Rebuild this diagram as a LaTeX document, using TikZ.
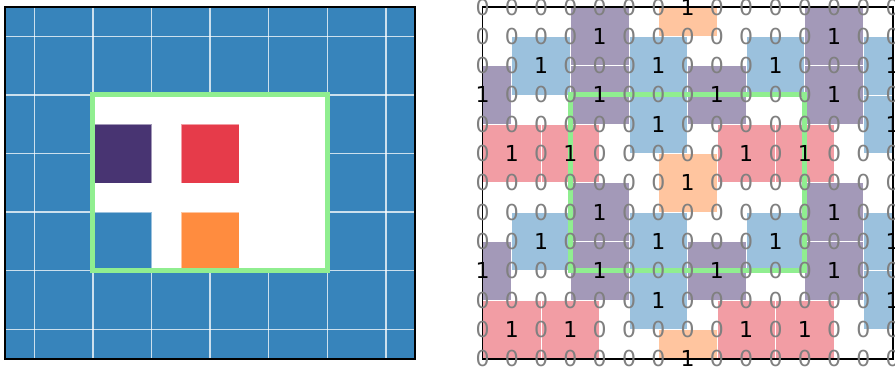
\documentclass[tikz,border=0pt]{standalone}
\usepackage{fontspec}
\newfontfamily\dvfont{DejaVu Sans}
\definecolor{cblue}{HTML}{3784BB}
\definecolor{cpurple}{HTML}{483472}
\definecolor{cred}{HTML}{E63B4A}
\definecolor{corange}{HTML}{FF8C3F}
\definecolor{cgreen}{HTML}{90EE90}
\definecolor{cgray}{HTML}{808080}
\tikzset{
  gridline/.style={draw=white, draw opacity=0.75, line width=1.3bp},
  lsq/.style={draw=white, draw opacity=0.5, line width=0.6bp},
  rsq/.style={draw=white, line width=0.8bp, fill opacity=0.5},
  greenbox/.style={draw=cgreen, line width=5bp},
  framebox/.style={draw=black, line width=1.8bp},
  digit/.style={font=\dvfont\fontsize{22bp}{22bp}\selectfont, inner sep=0pt, anchor=center},
}
\begin{document}
\begin{tikzpicture}[x=1bp,y=-1bp]
\useasboundingbox (0,0) rectangle (895,368);
% ---------- left panel ----------
\begin{scope}[shift={(5bp,-7bp)}, x=29.3bp, y=-29.3bp]
  \fill[cblue] (0,0) rectangle (14,12);
  \foreach \i in {1,3,...,13} \draw[gridline] (\i,0) -- (\i,12);
  \foreach \j in {1,3,...,11} \draw[gridline] (0,\j) -- (14,\j);
  \fill[white] (3,3) rectangle (11,9);
  \draw[lsq, fill=cpurple] (3,4) rectangle (5,6);
  \draw[lsq, fill=cred] (6,4) rectangle (8,6);
  \draw[lsq, fill=cblue] (3,7) rectangle (5,9);
  \draw[lsq, fill=corange] (6,7) rectangle (8,9);
  \draw[greenbox] (3,3) rectangle (11,9);
  \draw[framebox] (0,0) rectangle (14,12);
\end{scope}
% ---------- right panel ----------
\begin{scope}[shift={(482.5bp,-7bp)}, x=29.3bp, y=-29.3bp]
  \begin{scope}
    \clip (0,0) rectangle (14,12);
    \foreach \base/\cols/\cc in {0/{7}/corange,1/{4,12}/cpurple,2/{2,6,10,14}/cblue,3/{0,4,8,12}/cpurple,4/{6,14}/cblue,5/{1,3,9,11}/cred}{
      \foreach \off in {0,6,12}{
        \pgfmathtruncatemacro\rr{\base+\off}
        \ifnum\rr<13
          \foreach \c in \cols {
            \draw[rsq, fill=\cc] (\c-1,\rr-1) rectangle (\c+1,\rr+1);
            \expandafter\gdef\csname one\c x\rr\endcsname{1}
          }
        \fi
      }
    }
  \end{scope}
  \draw[greenbox] (3,3) rectangle (11,9);
  \draw[framebox] (0,0) rectangle (14,12);
  \foreach \r in {0,...,12}{
    \foreach \c in {0,...,14}{
      \ifcsname one\c x\r\endcsname
        \node[digit, text=black] (d-\c-\r) at (\c,\r) {1};
      \else
        \node[digit, text=cgray] (d-\c-\r) at (\c,\r) {0};
      \fi
    }
  }
\end{scope}
\end{tikzpicture}
\end{document}
